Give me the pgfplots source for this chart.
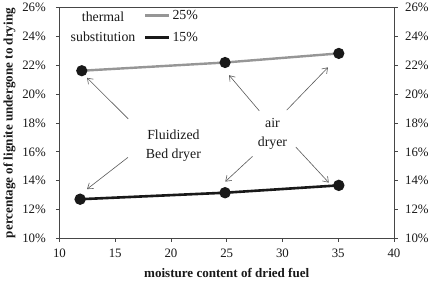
\documentclass[border=0pt]{standalone}
\usepackage{pgfplots}
\pgfplotsset{compat=1.18}
\usepackage{fontspec}
\setmainfont{Liberation Serif}
\usetikzlibrary{arrows.meta}
\definecolor{axgray}{RGB}{70,70,70}
\definecolor{lgray}{RGB}{150,150,150}
\definecolor{dk}{RGB}{25,25,25}
\definecolor{arr}{RGB}{90,90,90}
\begin{document}
\begin{tikzpicture}[font=\fontsize{12.8}{15}\selectfont]
\pgfplotsset{common/.style={
  scale only axis, width=332bp, height=229bp,
  xmin=10, xmax=40, ymin=10, ymax=26,
  xtick={10,15,...,40}, ytick={10,12,...,26},
  tick align=outside, major tick length=3.5bp,
  axis line style={axgray, line width=0.9pt},
  every tick/.style={axgray, line width=0.9pt},
  /pgf/number format/assume math mode=true,
  yticklabel={\pgfmathprintnumber{\tick}\%},
  ticklabel style={text=dk, font=\fontsize{12.8}{15}\selectfont},
}}
\begin{axis}[common,
  ytick pos=left, xtick pos=bottom,
  yticklabel style={xshift=-6.5bp},
  xticklabel style={yshift=-3.5bp},
  xlabel={\textbf{moisture content of dried fuel}},
  ylabel={\textbf{percentage of lignite undergone to drying}},
  label style={font=\fontsize{13}{15}\selectfont, text=dk},
  xlabel style={yshift=-4bp},
  ylabel style={yshift=0bp},
  legend style={draw=none, fill=none, at={(axis cs:17.45,26.05)}, anchor=north west,
    row sep=7bp, inner sep=1bp, font=\fontsize{13.8}{15}\selectfont, text=dk},
  legend cell align=left,
  legend image code/.code={\draw[#1, mark=none] (0bp,0bp) -- (24bp,0bp);},
]
\addplot[lgray, line width=2.4pt, mark=*, mark size=4.3bp,
  mark options={fill=dk, draw=dk}] coordinates {(12,21.63) (24.85,22.2) (35.05,22.83)};
\addlegendentry{25\%}
\addplot[dk, line width=2.6pt, mark=*, mark size=4.3bp,
  mark options={fill=dk, draw=dk}] coordinates {(11.85,12.72) (24.85,13.17) (35.05,13.68)};
\addlegendentry{15\%}
\node[align=center, text=dk, font=\fontsize{13.8}{20}\selectfont] at (axis cs:13.91,24.65) {thermal\\substitution};
\node[align=center, text=dk, font=\fontsize{13.8}{19}\selectfont] at (axis cs:20.22,16.42) {Fluidized\\Bed dryer};
\node[align=center, text=dk, font=\fontsize{13.8}{18}\selectfont] at (axis cs:29.1,17.25) {air\\dryer};
\begin{scope}[arr, line width=0.6pt, -{Straight Barb[length=5bp, width=7bp]}]
\draw (axis cs:16.17,18.29) -- (axis cs:12.47,21.14);
\draw (axis cs:16.14,15.62) -- (axis cs:12.47,13.42);
\draw (axis cs:27.92,18.85) -- (axis cs:25.21,21.32);
\draw (axis cs:30.38,18.9) -- (axis cs:34.08,21.86);
\draw (axis cs:27.31,15.69) -- (axis cs:24.87,13.94);
\draw (axis cs:31.19,16.34) -- (axis cs:34.15,13.87);
\end{scope}
\end{axis}
\begin{axis}[common,
  ytick pos=right, yticklabel pos=right, xtick=\empty, hide x axis,
  yticklabel style={xshift=4bp},
  axis line style={draw=none},
]
\addplot[draw=none, forget plot] coordinates {(10,10) (40,26)};
\end{axis}
\path (current axis.outer east) ++(1bp,0);
\end{tikzpicture}
\end{document}
